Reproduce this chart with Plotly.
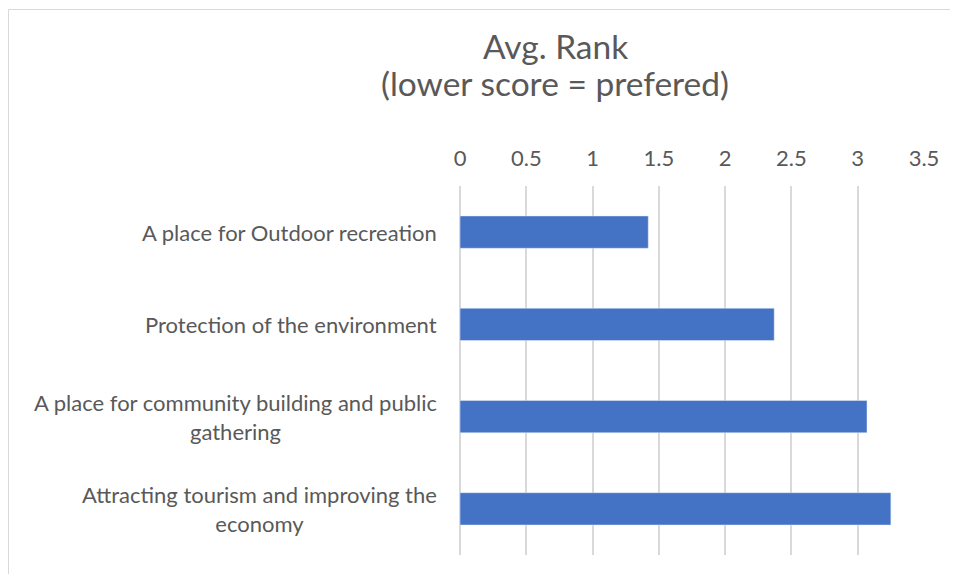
import plotly.graph_objects as go

categories = [
    "A place for Outdoor recreation",
    "Protection of the environment",
    "A place for community building and public<br>gathering",
    "Attracting tourism and improving the<br>economy",
]
values = [1.42, 2.37, 3.07, 3.25]
tick_vals = [0, 0.5, 1, 1.5, 2, 2.5, 3, 3.5]
tick_text = ["0", "0.5", "1", "1.5", "2", "2.5", "3", "3.5"]
title_lines = ["Avg. Rank", "(lower score = prefered)"]

FONT = "Lato"
TXT = "#595959"

OFF = 8  # page body margin
W, H = 958 - 2 * OFF, 582 - 2 * OFF
L, T = 460 - OFF, 186 - OFF
R = W - (924 - OFF)
B = H - (555 - OFF)
pw, ph = W - L - R, H - T - B

fig = go.Figure(go.Bar(
    x=values, y=categories, orientation="h",
    marker=dict(color="#4472C4"),
    width=0.35,
))

annotations = []
for c in categories:
    annotations.append(dict(
        x=0, xref="paper", y=c, yref="y", text=c, showarrow=False,
        xanchor="right", yanchor="middle", align="center", xshift=-21,
        font=dict(family=FONT, size=22, color=TXT),
    ))

def py(pix):
    return (H - B - (pix - OFF)) / ph

def px(pix):
    return ((pix - OFF) - L) / pw

annotations.append(dict(x=px(555), xref="paper", y=py(46), yref="paper", text=title_lines[0],
                        showarrow=False, xanchor="center", yanchor="middle",
                        font=dict(family=FONT, size=33.5, color=TXT)))
annotations.append(dict(x=px(555), xref="paper", y=py(83), yref="paper", text=title_lines[1],
                        showarrow=False, xanchor="center", yanchor="middle",
                        font=dict(family=FONT, size=33.5, color=TXT)))

fig.update_layout(
    width=W, height=H,
    margin=dict(l=L, r=R, t=T, b=B, autoexpand=False),
    paper_bgcolor="white", plot_bgcolor="white",
    showlegend=False,
    annotations=annotations,
    shapes=[dict(type="rect", xref="paper", yref="paper",
                 x0=px(8.5), x1=px(1200), y0=py(700), y1=py(9.5),
                 line=dict(color="#D9D9D9", width=1), layer="below")],
    xaxis=dict(
        side="top", range=[0, 3.5], tickvals=tick_vals, ticktext=tick_text,
        showgrid=True, gridcolor="#D9D9D9", gridwidth=1.5,
        zeroline=True, zerolinecolor="#D9D9D9", zerolinewidth=1.5,
        showline=False, ticks="",
        tickfont=dict(family=FONT, size=22, color=TXT),
        ticklabelstandoff=15,
    ),
    yaxis=dict(
        categoryorder="array", categoryarray=categories[::-1],
        showticklabels=False, showgrid=False, zeroline=False, showline=False,
        range=[-0.5, 3.5],
    ),
)

fig.write_html("out.html")
